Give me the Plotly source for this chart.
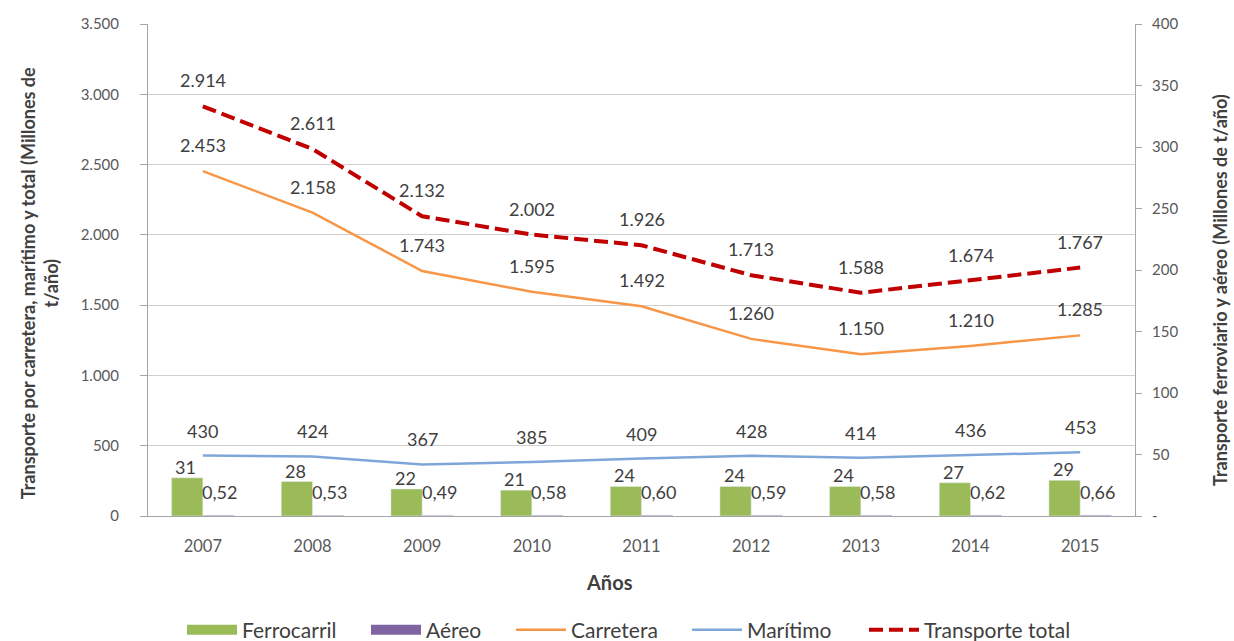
import plotly.graph_objects as go

# Freight transport by mode, 2007-2015 (millions of t/year)
years = ["2007", "2008", "2009", "2010", "2011", "2012", "2013", "2014", "2015"]
ferrocarril = [31, 28, 22, 21, 24, 24, 24, 27, 29]
aereo = [0.52, 0.53, 0.49, 0.58, 0.60, 0.59, 0.58, 0.62, 0.66]
carretera = [2453, 2158, 1743, 1595, 1492, 1260, 1150, 1210, 1285]
maritimo = [430, 424, 367, 385, 409, 428, 414, 436, 453]
total = [2914, 2611, 2132, 2002, 1926, 1713, 1588, 1674, 1767]

left_ticks = [0, 500, 1000, 1500, 2000, 2500, 3000, 3500]
left_ticktext = ["0", "500", "1.000", "1.500", "2.000", "2.500", "3.000", "3.500"]
right_ticks = [0, 50, 100, 150, 200, 250, 300, 350, 400]
right_ticktext = ["-", "50", "100", "150", "200", "250", "300", "350", "400"]

C_FERRO = "#9BBB59"
C_AEREO = "#8064A2"
C_CARR = "#F79646"
C_MAR = "#7FA6D8"
C_TOT = "#C00000"
FONT = "Lato"
TXT = "#404040"
TOT_DASH = "14px,6px"


def miles(v):
    return f"{v:,}".replace(",", ".")


def dec(v):
    return f"{v:.2f}".replace(".", ",")


fig = go.Figure()

# bars on the secondary (right) axis
fig.add_trace(go.Bar(x=years, y=ferrocarril, name="Ferrocarril", marker_color=C_FERRO,
                     yaxis="y2", showlegend=False))
fig.add_trace(go.Bar(x=years, y=aereo, name="Aéreo", marker_color=C_AEREO,
                     yaxis="y2", showlegend=False))

# lines on the primary (left) axis
fig.add_trace(go.Scatter(x=years, y=carretera, name="Carretera", mode="lines",
                         line=dict(color=C_CARR, width=2.5), legend="legend3"))
fig.add_trace(go.Scatter(x=years, y=maritimo, name="Marítimo", mode="lines",
                         line=dict(color=C_MAR, width=2.5), legend="legend4"))
fig.add_trace(go.Scatter(x=years, y=total, name="Transporte total", mode="lines",
                         line=dict(color=C_TOT, width=4, dash=TOT_DASH), legend="legend5"))

# legend swatches drawn as wide blocks for the bar series
fig.add_trace(go.Scatter(x=[years[0]], y=[None], mode="lines", name="Ferrocarril",
                         line=dict(color=C_FERRO, width=11), legend="legend"))
fig.add_trace(go.Scatter(x=[years[0]], y=[None], mode="lines", name="Aéreo",
                         line=dict(color=C_AEREO, width=11), legend="legend2"))

# value labels; x is the category index on the category axis
ann = []
for i in range(len(years)):
    ann.append(dict(x=i, y=total[i], yref="y", text=miles(total[i]), yshift=26))
    ann.append(dict(x=i, y=carretera[i], yref="y", text=miles(carretera[i]), yshift=26))
    ann.append(dict(x=i, y=maritimo[i], yref="y", text=str(maritimo[i]), yshift=25))
    ann.append(dict(x=i, y=ferrocarril[i], yref="y2", text=str(ferrocarril[i]),
                    yshift=11, xshift=-17))
    ann.append(dict(x=i, y=aereo[i], yref="y2", text=dec(aereo[i]),
                    yshift=23, xshift=17))
for a in ann:
    a.update(xref="x", showarrow=False, yanchor="middle",
             font=dict(family=FONT, size=18, color=TXT))

# axis titles
title_font = dict(family=FONT, size=18, color=TXT)
ann += [
    dict(xref="paper", yref="paper", x=-0.11, y=0.474, xanchor="center", yanchor="middle",
         textangle=-90, showarrow=False, align="center", font=title_font,
         text="<b>Transporte por carretera, marítimo y total (Millones de<br>t/año)</b>"),
    dict(xref="paper", yref="paper", x=1.086, y=0.459, xanchor="center", yanchor="middle",
         textangle=-90, showarrow=False, font=title_font,
         text="<b>Transporte ferroviario y aéreo (Millones de t/año)</b>"),
    dict(xref="paper", yref="paper", x=0.468, y=-0.134, xanchor="center", yanchor="middle",
         showarrow=False, font=dict(family=FONT, size=20, color=TXT), text="<b>Años</b>"),
]


def legend_box(px):
    return dict(orientation="h", xref="container", yref="container",
                x=(px - 6) / 1234, xanchor="left", y=1 - 630 / 641, yanchor="middle",
                font=dict(size=21, color="#404040"), itemwidth=50,
                bgcolor="rgba(0,0,0,0)")


fig.update_layout(
    width=1234, height=641,
    margin=dict(l=148, r=99, t=24, b=125, autoexpand=False),
    paper_bgcolor="white", plot_bgcolor="white",
    font=dict(family=FONT, size=15, color="#595959"),
    barmode="group", bargap=0.43, bargroupgap=0,
    annotations=ann,
    xaxis=dict(type="category", range=[-0.5, 8.5], showline=True, linecolor="#A6A6A6",
               linewidth=1, ticks="", ticklabelstandoff=15,
               tickfont=dict(size=16.5, color="#595959")),
    yaxis=dict(range=[0, 3500], tickvals=left_ticks, ticktext=left_ticktext,
               showgrid=True, gridcolor="#CFCFCF", gridwidth=1,
               showline=True, linecolor="#A6A6A6", ticks="outside", ticklen=7,
               tickcolor="#A6A6A6", zeroline=False, ticklabelstandoff=18,
               tickfont=dict(size=15, color="#595959")),
    yaxis2=dict(range=[0, 400], overlaying="y", side="right", tickvals=right_ticks,
                ticktext=right_ticktext, showgrid=False, zeroline=False,
                showline=True, linecolor="#A6A6A6", ticks="outside", ticklen=6,
                tickcolor="#A6A6A6", ticklabelstandoff=7,
                tickfont=dict(size=15, color="#595959")),
    legend=legend_box(188),
    legend2=legend_box(372),
    legend3=legend_box(517),
    legend4=legend_box(693),
    legend5=legend_box(870),
)

fig.write_html("out.html")
